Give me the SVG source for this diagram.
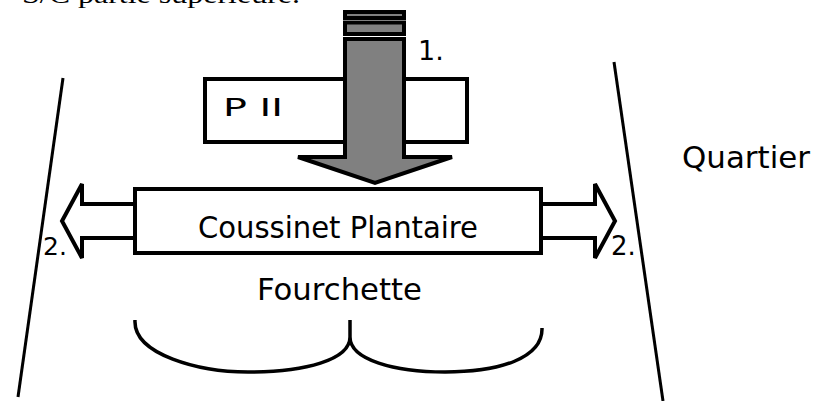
<svg xmlns="http://www.w3.org/2000/svg" width="816" height="401" viewBox="0 0 816 401">
  <style>
    .lbl { font-family: "Comic Sans MS", "DejaVu Sans", sans-serif; fill: #000; }
    .box { fill: #fff; stroke: #000; stroke-width: 4; }
    .grey { fill: #808080; stroke: #000; stroke-width: 4; stroke-linejoin: miter; }
    .hollow { fill: #fff; stroke: #000; stroke-width: 4; stroke-linejoin: miter; }
    .wall { fill: none; stroke: #000; stroke-width: 3; }
  </style>
  <rect width="816" height="401" fill="#fff"/>

  <!-- caption line running off the top edge -->
  <text x="22" y="3" font-family="Liberation Serif, serif" font-size="26" textLength="278" lengthAdjust="spacingAndGlyphs">S/C partie supérieure.</text>

  <!-- walls of the hoof -->
  <g id="walls">
    <line class="wall" x1="63" y1="78" x2="18" y2="397"/>
    <line class="wall" x1="614" y1="62" x2="663" y2="401"/>
  </g>

  <g id="p2">
    <rect class="box" x="205" y="79" width="262" height="63"/>
    <text class="lbl" x="223" y="116" font-size="25" textLength="60" lengthAdjust="spacingAndGlyphs">P II</text>
  </g>

  <g id="connectors">
    <!-- lateral spread arrows -->
    <polygon class="hollow" points="135,204 82,204 82,184 62,221 82,258 82,238 135,238"/>
    <polygon class="hollow" points="541,204 595,204 595,184 615,221 595,258 595,238 541,238"/>
    <!-- downward load arrow -->
    <polygon class="grey" points="345,39 404,39 404,157 452,157 375,183 298,157 345,157"/>
  </g>

  <g id="load">
    <rect class="grey" x="345" y="12" width="59" height="6"/>
    <rect class="grey" x="345" y="22.5" width="59" height="11.5"/>
    <text class="lbl" x="418" y="60" font-size="27">1.</text>
  </g>

  <g id="coussinet">
    <rect class="box" x="135" y="189" width="406" height="64"/>
    <text class="lbl" x="198" y="238" font-size="31" textLength="280" lengthAdjust="spacingAndGlyphs">Coussinet Plantaire</text>
  </g>

  <g id="labels2">
    <text class="lbl" x="43" y="255" font-size="25">2.</text>
    <text class="lbl" x="611" y="255" font-size="26">2.</text>
  </g>

  <g id="fourchette">
    <text class="lbl" x="257" y="300" font-size="31" textLength="165" lengthAdjust="spacingAndGlyphs">Fourchette</text>
    <path fill="none" stroke="#000" stroke-width="3.5" d="M135,320 C133,355 200,372 248,372 C305,372 350,360 350,337 M350,320 L350,337 C350,360 395,372 445,372 C500,372 543,358 542,328"/>
  </g>

  <g id="quartier">
    <text class="lbl" x="682" y="168" font-size="31" textLength="128" lengthAdjust="spacingAndGlyphs">Quartier</text>
  </g>
</svg>
